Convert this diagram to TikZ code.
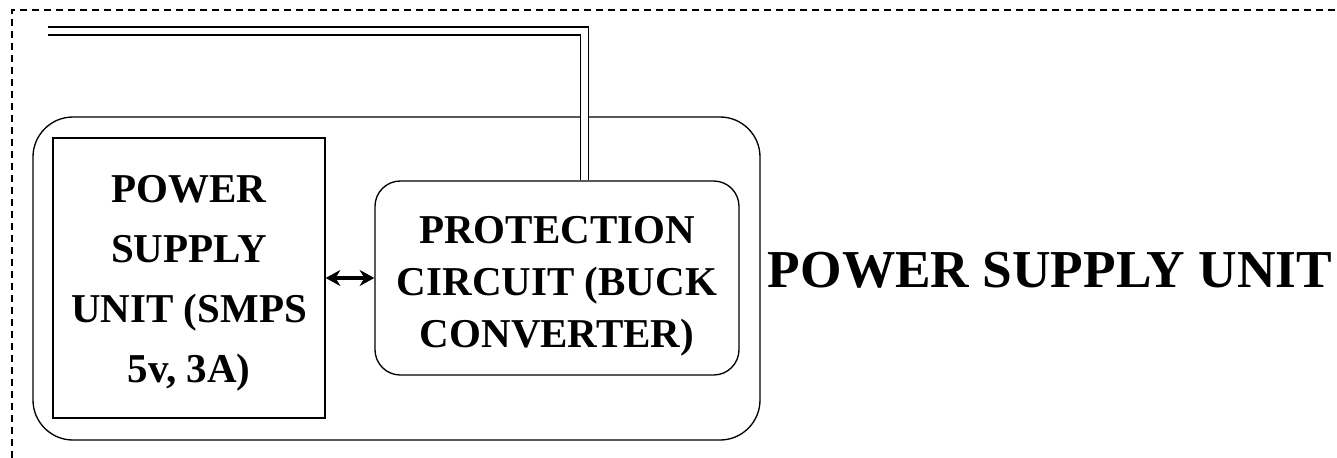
\documentclass[tikz,border=0pt]{standalone}
\usepackage{fontspec}
\setmainfont{Liberation Serif}
\usepackage{tikz}
\usetikzlibrary{calc,arrows.meta,positioning}

\newcommand{\lift}[1]{\rule{0pt}{#1}}

\begin{document}
\begin{tikzpicture}[
  x=0.75pt, y=-0.75pt,
  every node/.style={font=\bfseries},
  blk/.style={draw, line width=1pt, inner sep=0pt, align=center,
              font=\fontsize{30.75}{45}\selectfont\bfseries},
  rblk/.style={blk, rounded corners=19pt,
               font=\fontsize{30.75}{38.8}\selectfont\bfseries},
  >={Stealth[length=11pt,width=12pt]}]
  \useasboundingbox (0,0) rectangle (1337,457);
  % dashed frame
  \draw[dash pattern=on 5.25pt off 3.75pt, line width=0.8pt] (12,470) |- (1350,10);
  \node[draw, line width=1pt, rounded corners=30pt, minimum width=545.25pt,
        minimum height=242.25pt] (psu) at (396.5,278.5) {};
  \node[blk, minimum width=204pt, minimum height=210pt] (smps) at (189,278)
    {\lift{28.5pt}POWER\\SUPPLY\\UNIT (SMPS\\5v, 3A)};
  \node[rblk, minimum width=273pt, minimum height=145.5pt] (prot) at (557,278)
    {\lift{32.5pt}PROTECTION\\CIRCUIT (BUCK\\CONVERTER)};
  \node[font=\fontsize{40}{48}\selectfont\bfseries, anchor=base] (title) at (1050,287)
    {POWER SUPPLY UNIT};
  \coordinate (feed) at (48,31);
  \draw[line width=1.1pt, double, double distance=4.9pt] (feed) -| ($(prot.north)+(27.5,0)$);
  \draw[<->, line width=2.5pt] (smps) -- (prot);
\end{tikzpicture}
\end{document}
